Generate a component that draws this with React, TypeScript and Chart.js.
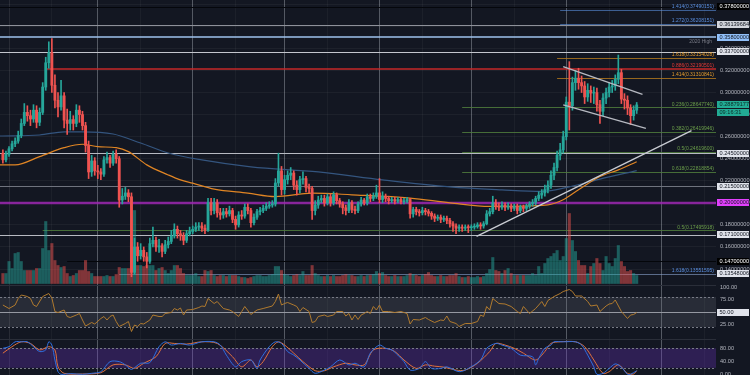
import React, { useEffect, useRef } from 'react';
import Chart from 'chart.js/auto';

// ---------------- DATA ----------------
// day index 0 = 1 Feb 2020, first candle = day -2
const FIRST_DAY = -2;
const FIRST_OPEN = 0.245;

const closes = [
  0.239, 0.244, 0.249, 0.2535, 0.256, 0.261, 0.272, 0.282, 0.279, 0.276,
  0.284, 0.273, 0.282, 0.305, 0.327, 0.336, 0.3066, 0.293, 0.287, 0.297,
  0.275, 0.272, 0.2755, 0.272, 0.284, 0.280, 0.270, 0.252, 0.228, 0.238,
  0.229, 0.228, 0.226, 0.239, 0.241, 0.236, 0.244, 0.240, 0.2025, 0.206,
  0.209, 0.2055, 0.137, 0.160, 0.152, 0.157, 0.151, 0.147, 0.163, 0.166,
  0.160, 0.161, 0.156, 0.162, 0.165, 0.170, 0.176, 0.172, 0.170, 0.166,
  0.172, 0.174, 0.176, 0.178, 0.179, 0.177, 0.175, 0.200, 0.193, 0.200,
  0.191, 0.189, 0.192, 0.190, 0.193, 0.185, 0.180, 0.189, 0.188, 0.196,
  0.193, 0.182, 0.187, 0.192, 0.193, 0.195, 0.197, 0.198, 0.199, 0.218,
  0.229, 0.212, 0.221, 0.225, 0.227, 0.216, 0.212, 0.221, 0.222, 0.214,
  0.213, 0.193, 0.198, 0.2025, 0.204, 0.200, 0.2055, 0.200, 0.2073, 0.202,
  0.199, 0.1955, 0.193, 0.200, 0.194, 0.193, 0.199, 0.2025, 0.200, 0.2055,
  0.204, 0.206, 0.209, 0.203, 0.206, 0.204, 0.202, 0.203, 0.2015, 0.203,
  0.201, 0.2015, 0.203, 0.190, 0.194, 0.192, 0.191, 0.193, 0.192, 0.1905,
  0.188, 0.186, 0.187, 0.185, 0.186, 0.184, 0.181, 0.179, 0.177, 0.178,
  0.177, 0.178, 0.1775, 0.178, 0.1785, 0.180, 0.179, 0.181, 0.190, 0.192,
  0.200, 0.197, 0.196, 0.198, 0.196, 0.197, 0.195, 0.197, 0.193, 0.196,
  0.195, 0.197, 0.199, 0.2005, 0.204, 0.207, 0.209, 0.212, 0.216, 0.225,
  0.232, 0.243, 0.248, 0.260, 0.2913, 0.288, 0.309, 0.313, 0.309, 0.306,
  0.296, 0.302, 0.2995, 0.300, 0.289, 0.283, 0.295, 0.300, 0.305, 0.306,
  0.312, 0.318, 0.294, 0.293, 0.286, 0.279, 0.284, 0.28879177,
];

const highs = [
  0.248, 0.247, 0.251, 0.256, 0.259, 0.265, 0.276, 0.290, 0.288, 0.284,
  0.289, 0.288, 0.286, 0.309, 0.332, 0.346, 0.349, 0.316, 0.300, 0.311,
  0.300, 0.285, 0.283, 0.279, 0.289, 0.288, 0.283, 0.273, 0.256, 0.243,
  0.241, 0.234, 0.231, 0.242, 0.246, 0.243, 0.247, 0.248, 0.242, 0.213,
  0.214, 0.212, 0.209, 0.168, 0.164, 0.163, 0.160, 0.155, 0.168, 0.178,
  0.169, 0.167, 0.163, 0.166, 0.169, 0.175, 0.181, 0.179, 0.175, 0.173,
  0.175, 0.178, 0.179, 0.182, 0.182, 0.182, 0.180, 0.204, 0.204, 0.204,
  0.203, 0.195, 0.195, 0.195, 0.197, 0.195, 0.188, 0.192, 0.193, 0.199,
  0.199, 0.195, 0.190, 0.194, 0.196, 0.198, 0.200, 0.201, 0.202, 0.222,
  0.245, 0.233, 0.225, 0.229, 0.232, 0.229, 0.220, 0.224, 0.228, 0.224,
  0.217, 0.215, 0.202, 0.206, 0.207, 0.207, 0.208, 0.208, 0.210, 0.209,
  0.204, 0.201, 0.198, 0.203, 0.202, 0.197, 0.201, 0.205, 0.204, 0.208,
  0.208, 0.209, 0.216, 0.222, 0.210, 0.208, 0.206, 0.205, 0.205, 0.205,
  0.205, 0.204, 0.205, 0.204, 0.196, 0.196, 0.194, 0.196, 0.195, 0.194,
  0.192, 0.190, 0.189, 0.189, 0.188, 0.188, 0.186, 0.183, 0.181, 0.180,
  0.180, 0.180, 0.180, 0.180, 0.181, 0.182, 0.182, 0.183, 0.193, 0.195,
  0.206, 0.203, 0.200, 0.201, 0.200, 0.200, 0.199, 0.199, 0.199, 0.198,
  0.198, 0.199, 0.201, 0.203, 0.206, 0.210, 0.212, 0.216, 0.220, 0.229,
  0.236, 0.247, 0.254, 0.265, 0.296, 0.328, 0.314, 0.320, 0.322, 0.315,
  0.310, 0.308, 0.306, 0.305, 0.304, 0.293, 0.299, 0.304, 0.309, 0.311,
  0.316, 0.334, 0.321, 0.299, 0.297, 0.289, 0.288, 0.291,
];

const lows = [
  0.236, 0.237, 0.242, 0.247, 0.251, 0.254, 0.259, 0.270, 0.274, 0.270,
  0.273, 0.268, 0.270, 0.280, 0.302, 0.322, 0.300, 0.286, 0.278, 0.284,
  0.268, 0.262, 0.266, 0.266, 0.269, 0.273, 0.266, 0.246, 0.222, 0.224,
  0.225, 0.222, 0.221, 0.224, 0.236, 0.232, 0.234, 0.236, 0.196, 0.199,
  0.203, 0.201, 0.133, 0.135, 0.147, 0.149, 0.147, 0.141, 0.145, 0.160,
  0.156, 0.155, 0.151, 0.154, 0.159, 0.163, 0.168, 0.168, 0.166, 0.162,
  0.164, 0.170, 0.172, 0.174, 0.175, 0.174, 0.172, 0.174, 0.189, 0.190,
  0.187, 0.185, 0.186, 0.187, 0.188, 0.182, 0.176, 0.178, 0.185, 0.186,
  0.190, 0.178, 0.180, 0.185, 0.189, 0.191, 0.193, 0.195, 0.196, 0.197,
  0.215, 0.207, 0.208, 0.217, 0.221, 0.212, 0.207, 0.209, 0.217, 0.210,
  0.209, 0.185, 0.189, 0.195, 0.200, 0.197, 0.198, 0.197, 0.198, 0.199,
  0.196, 0.190, 0.189, 0.191, 0.191, 0.190, 0.191, 0.197, 0.198, 0.198,
  0.201, 0.202, 0.204, 0.200, 0.200, 0.201, 0.199, 0.200, 0.199, 0.200,
  0.199, 0.199, 0.200, 0.186, 0.187, 0.189, 0.188, 0.189, 0.189, 0.188,
  0.185, 0.183, 0.184, 0.182, 0.183, 0.181, 0.178, 0.174, 0.172, 0.174,
  0.174, 0.175, 0.173, 0.175, 0.176, 0.177, 0.176, 0.177, 0.180, 0.188,
  0.190, 0.194, 0.193, 0.194, 0.193, 0.194, 0.192, 0.193, 0.190, 0.191,
  0.192, 0.193, 0.195, 0.197, 0.198, 0.202, 0.204, 0.206, 0.209, 0.213,
  0.221, 0.229, 0.239, 0.245, 0.257, 0.266, 0.284, 0.302, 0.303, 0.300,
  0.290, 0.292, 0.291, 0.290, 0.283, 0.272, 0.279, 0.290, 0.296, 0.300,
  0.302, 0.308, 0.290, 0.285, 0.280, 0.271, 0.275, 0.281,
];

const volumes = [
  10, 10, 22, 15, 30, 31, 22, 13, 13, 13,
  13, 15, 15, 35, 62, 33, 40, 23, 18, 16,
  17, 10, 7, 8, 10, 13, 13, 23, 12, 10,
  7, 7, 7, 7, 8, 7, 7, 9, 16, 15,
  15, 15, 41, 73, 18, 18, 17, 18, 18, 18,
  13, 15, 16, 13, 10, 13, 18, 18, 15, 10,
  8, 8, 8, 10, 7, 7, 13, 12, 13, 8,
  7, 8, 8, 7, 8, 8, 8, 7, 6, 6,
  5, 6, 7, 8, 8, 7, 7, 8, 9, 17,
  17, 13, 9, 8, 7, 8, 9, 8, 12, 8,
  8, 18, 10, 8, 7, 7, 8, 7, 8, 7,
  7, 8, 9, 8, 8, 7, 7, 8, 7, 8,
  8, 9, 12, 10, 11, 8, 7, 7, 8, 7,
  7, 7, 8, 10, 9, 8, 7, 8, 9, 11,
  8, 7, 7, 8, 7, 7, 8, 8, 10, 7,
  6, 6, 7, 6, 6, 7, 6, 7, 10, 14,
  26, 13, 12, 10, 13, 15, 10, 8, 8, 8,
  8, 8, 8, 10, 8, 17, 10, 20, 25, 27,
  30, 33, 23, 27, 45, 70, 43, 32, 23, 18,
  18, 10, 17, 20, 25, 20, 13, 27, 20, 17,
  25, 38, 22, 17, 12, 13, 10, 8,
];

// moving averages: [day, price]
const maSlow = [
  [-3, 0.2606], [10, 0.2615], [18, 0.2644], [24, 0.2644], [34, 0.2624], [43, 0.2542],
  [52, 0.2452], [63, 0.2389], [79, 0.2326], [101, 0.2280], [122, 0.2208], [144, 0.2145],
  [161, 0.2118], [174, 0.2104], [183, 0.2145], [193, 0.2215], [205, 0.2292],
];
const maFast = [
  [-3, 0.2344], [2, 0.2344], [10, 0.2419], [18, 0.2500], [24, 0.2531], [29, 0.2509],
  [35, 0.2500], [39, 0.2464], [45, 0.2344], [52, 0.2253], [56, 0.2208], [60, 0.2178],
  [67, 0.2124], [78, 0.2088], [87, 0.2057], [99, 0.2088], [112, 0.2073], [131, 0.2043],
  [144, 0.2000], [157, 0.1967], [176, 0.1982], [181, 0.2028], [186, 0.2118], [193, 0.2238],
  [199, 0.2299], [205, 0.2373],
];

// RSI [day, value]
const rsi = [
  [-2, 64], [0, 57], [2, 64], [3, 77], [4, 84], [6, 81], [7, 77], [8, 64], [9, 61], [11, 81],
  [13, 87], [14, 78], [15, 51], [16, 49], [18, 54], [19, 41], [20, 39], [22, 44], [23, 47], [24, 34],
  [25, 22], [27, 29], [28, 26], [30, 37], [31, 41], [32, 34], [33, 41], [34, 44], [35, 31], [36, 21],
  [38, 27], [39, 31], [40, 11], [41, 24], [42, 21], [43, 27], [44, 26], [46, 34], [47, 44], [49, 41],
  [50, 41], [51, 47], [53, 49], [54, 57], [55, 54], [56, 58], [57, 44], [58, 54], [60, 55], [62, 59],
  [63, 62], [64, 61], [65, 77], [67, 67], [68, 71], [69, 64], [70, 57], [72, 54], [73, 51], [75, 41],
  [76, 51], [77, 61], [79, 45], [81, 54], [83, 57], [86, 62], [87, 71], [88, 86], [89, 64], [90, 67],
  [91, 69], [93, 64], [94, 61], [95, 51], [96, 59], [98, 51], [99, 29], [100, 31], [101, 41], [103, 44],
  [104, 41], [106, 44], [107, 51], [109, 51], [110, 42], [111, 47], [112, 34], [113, 44], [114, 35], [115, 44],
  [116, 47], [117, 51], [118, 47], [119, 61], [120, 54], [121, 64], [122, 51], [124, 51], [126, 49], [128, 51],
  [130, 47], [131, 26], [132, 35], [134, 34], [136, 39], [137, 35], [139, 29], [141, 34], [142, 33], [143, 42],
  [144, 31], [146, 27], [147, 21], [149, 27], [151, 27], [153, 31], [154, 44], [155, 41], [156, 61], [157, 54],
  [158, 77], [160, 67], [162, 66], [164, 61], [166, 51], [167, 47], [168, 61], [170, 47], [172, 57], [174, 71],
  [175, 61], [176, 73], [178, 81], [180, 87], [181, 91], [183, 95], [184, 91], [185, 82], [187, 82], [189, 71],
  [190, 62], [192, 64], [193, 51], [195, 62], [196, 66], [197, 67], [198, 74], [200, 51], [201, 44], [202, 37],
  [203, 44], [204, 45], [205, 49],
];

// Stochastic %K and %D [day, value]
const stochK = [
  [-2, 80], [0, 85], [2, 100], [4, 100], [6, 100], [8, 85], [10, 70], [12, 75], [13, 100], [14, 90],
  [15, 44], [16, 8], [17, 0], [20, 2], [24, 0], [27, 3], [30, 8], [33, 39], [36, 39], [38, 29],
  [40, 15], [43, 34], [46, 36], [49, 85], [51, 100], [53, 90], [56, 95], [59, 90], [63, 100], [67, 100],
  [69, 90], [71, 59], [74, 23], [76, 39], [79, 44], [81, 18], [82, 44], [85, 85], [87, 100], [89, 95],
  [91, 70], [93, 59], [95, 44], [98, 18], [100, 3], [103, 13], [105, 23], [108, 44], [111, 29], [113, 34],
  [116, 23], [118, 65], [121, 90], [123, 80], [125, 75], [127, 59], [129, 39], [131, 13], [134, 18], [136, 39],
  [138, 18], [141, 18], [143, 23], [147, 8], [150, 18], [154, 44], [156, 80], [159, 95], [161, 90], [164, 80],
  [167, 59], [171, 54], [172, 29], [173, 49], [175, 80], [177, 90], [178, 100], [181, 100], [185, 100], [187, 90],
  [189, 59], [191, 23], [192, 0], [194, 3], [196, 18], [198, 32], [200, 22], [202, 0], [203, 0], [205, 11],
];
const stochD = [
  [-2, 65], [1, 85], [4, 100], [7, 95], [10, 75], [13, 85], [15, 75], [16, 23], [18, 3], [24, 1],
  [30, 5], [34, 29], [38, 29], [41, 18], [44, 34], [48, 54], [51, 95], [54, 95], [58, 93], [63, 100],
  [68, 95], [73, 54], [76, 23], [79, 44], [81, 23], [83, 39], [86, 85], [88, 100], [90, 90], [93, 65],
  [96, 39], [100, 11], [103, 11], [106, 23], [110, 34], [113, 29], [116, 29], [119, 75], [123, 80], [126, 70],
  [129, 44], [133, 18], [136, 29], [139, 25], [142, 22], [146, 13], [149, 13], [153, 34], [157, 70], [159, 95],
  [162, 90], [165, 80], [168, 65], [172, 44], [175, 70], [177, 95], [180, 100], [185, 100], [188, 85], [191, 44],
  [194, 3], [196, 8], [199, 29], [202, 3], [204, 1], [205, 11],
];

// drawn trend lines [day, price]
const trendRising = [[152.7, 0.1696], [222.9, 0.2654]];
const flagUpper = [[181.0, 0.3235], [206.9, 0.2983]];
const flagLower = [[181.0, 0.2888], [208.0, 0.2675]];

const priceTicks = [0.14, 0.16, 0.18, 0.2, 0.22, 0.24, 0.26, 0.28, 0.3, 0.32, 0.34, 0.36, 0.38];
const priceLabelTicks = [0.14, 0.16, 0.18, 0.2, 0.22, 0.24, 0.26, 0.28, 0.3, 0.32, 0.34, 0.36];
const monthStarts = [0, 29, 60, 90, 121, 151, 182, 213];
const midMonths = [14, 43, 74, 104, 135, 165, 196, 227];

const levelPrices = [0.378, 0.36139684, 0.35, 0.337, 0.3217, 0.245, 0.215, 0.2, 0.171, 0.147];
const levelFromDay = [-3, -3, -3, -3, 12, -3, -3, -3, -3, 19];

const fibPrices = [0.37490151, 0.36208151, 0.33154028, 0.32190501, 0.31310841, 0.2864774, 0.26419946, 0.246196, 0.22818854, 0.17495918, 0.13551595];
const fibLabels = ['1.414(0.37490151)', '1.272(0.36208151)', '1.618(0.33154028)', '0.886(0.32190501)', '1.414(0.31310841)', '0.236(0.28647740)', '0.382(0.26419946)', '0.5(0.24619600)', '0.618(0.22818854)', '0.5(0.17495918)', '1.618(0.13551595)'];
const fibFromDay = [180, 180, 179, null, 179, 148, 148, 148, 148, 11, 36];

const axisBoxTexts = ['0.37800000', '0.36139684', '0.35800000', '0.33700000', '0.28879177', '0.24500000', '0.21500000', '0.20000000', '0.17100000', '0.14700000', '0.13548006'];
const axisBoxPrices = [0.378, 0.36139684, 0.35, 0.337, 0.28879177, 0.245, 0.215, 0.2, 0.171, 0.147, 0.1355];
const countdownText = '09:16:31';
const highLabel = '2020 High';
const highLabelPrice = 0.35;

const rsiTicks = [100, 75, 25];
const rsiBoxValue = 50;
const rsiBands = [80, 20];
const rsiMid = 50;
const stochTicks = [80, 40, 0];
const stochBands = [80, 20];

// ---------------- STYLE ----------------
const BG = '#131722';
const UP = '#26a69a';
const DOWN = '#ef5350';
const levelStyles = [
  { c: '#05070c', w: 1 }, { c: '#8e919a', w: 1 }, { c: '#9fc3ee', w: 1.5 }, { c: '#c3c6ce', w: 1 },
  { c: '#c62828', w: 1.5 }, { c: '#b7bac2', w: 1 }, { c: '#6f737e', w: 1 }, { c: 'rgba(156,39,176,0.85)', w: 2.5 },
  { c: '#b7bac2', w: 1 }, { c: '#04060a', w: 1 },
];
const BLUE_T = '#5a8fe0', ORANGE_T = '#e39b2c', RED_T = '#e53935', GREEN_T = '#6b9e4a';
const fibTextColors = [BLUE_T, BLUE_T, ORANGE_T, RED_T, ORANGE_T, GREEN_T, GREEN_T, GREEN_T, GREEN_T, GREEN_T, BLUE_T];
const fibLineColors = ['rgba(90,143,224,0.6)', 'rgba(90,143,224,0.6)', 'rgba(184,124,30,0.8)', null, 'rgba(184,124,30,0.8)',
  'rgba(80,125,60,0.85)', 'rgba(80,125,60,0.85)', 'rgba(80,125,60,0.85)', 'rgba(80,125,60,0.85)', 'rgba(80,125,60,0.85)', 'rgba(140,165,210,0.6)'];
const boxBg = ['#000000', '#d1d4dc', '#90bff9', '#e0e3eb', '#22ab94', '#e0e3eb', '#e0e3eb', '#e040fb', '#e0e3eb', '#000000', '#e0e3eb'];
const boxFg = ['#ffffff', '#131722', '#131722', '#131722', '#0b2a26', '#131722', '#131722', '#131722', '#131722', '#ffffff', '#131722'];

// ---------------- DERIVED ----------------
const days = closes.map((_, i) => FIRST_DAY + i);
const opens = closes.map((_, i) => (i === 0 ? FIRST_OPEN : closes[i - 1]));
const isUp = closes.map((c, i) => c >= opens[i]);
const candleColors = isUp.map((u) => (u ? UP : DOWN));
const volColors = isUp.map((u) => (u ? 'rgba(38,166,154,0.5)' : 'rgba(239,83,80,0.5)'));
const pts = (arr: number[][]) => arr.map(([x, y]) => ({ x, y }));

const overlayPlugin = {
  id: 'overlay',
  beforeDraw(chart: any) {
    const { ctx } = chart;
    ctx.save();
    ctx.fillStyle = BG;
    ctx.fillRect(0, 0, chart.width, chart.height);
    ctx.restore();
  },
  beforeDatasetsDraw(chart: any) {
    const { ctx, chartArea: ca, scales } = chart;
    const xs = scales.x, ys = scales.y, yr = scales.yRsi, yst = scales.yStoch;
    const W = ca.right - ca.left;
    const hline = (py: number, x0: number, color: string, w: number, dash?: number[]) => {
      ctx.beginPath();
      ctx.strokeStyle = color;
      ctx.lineWidth = w;
      ctx.setLineDash(dash || []);
      const yy = w % 2 === 1 ? Math.round(py) + 0.5 : Math.round(py);
      ctx.moveTo(Math.max(ca.left, x0), yy);
      ctx.lineTo(ca.right, yy);
      ctx.stroke();
    };
    ctx.save();
    // panel separators
    hline(yr.getPixelForValue(104), ca.left, '#2a2e39', 1);
    hline(yr.getPixelForValue(-3), ca.left, '#2a2e39', 1);
    // RSI band
    const r1 = yr.getPixelForValue(rsiBands[0]), r2 = yr.getPixelForValue(rsiBands[1]);
    ctx.fillStyle = 'rgba(120,123,134,0.22)';
    ctx.fillRect(ca.left, r1, W, r2 - r1);
    hline(r1, ca.left, '#787b86', 1, [2, 2]);
    hline(r2, ca.left, '#787b86', 1, [2, 2]);
    hline(yr.getPixelForValue(rsiMid), ca.left, '#9598a1', 1);
    // Stoch band
    const s1 = yst.getPixelForValue(stochBands[0]), s2 = yst.getPixelForValue(stochBands[1]);
    ctx.fillStyle = 'rgba(110,50,200,0.3)';
    ctx.fillRect(ca.left, s1, W, s2 - s1);
    hline(s1, ca.left, '#787b86', 1, [2, 2]);
    hline(s2, ca.left, '#787b86', 1, [2, 2]);
    // horizontal levels
    levelPrices.forEach((p, i) => {
      hline(ys.getPixelForValue(p), xs.getPixelForValue(levelFromDay[i]), levelStyles[i].c, levelStyles[i].w);
    });
    fibPrices.forEach((p, i) => {
      const c = fibLineColors[i];
      const f = fibFromDay[i];
      if (c && f !== null) hline(ys.getPixelForValue(p), xs.getPixelForValue(f), c, 1);
    });
    ctx.restore();
  },
  afterDraw(chart: any) {
    const { ctx, chartArea: ca, scales } = chart;
    const ys = scales.y, yr = scales.yRsi, yst = scales.yStoch;
    const fam = '"Liberation Sans", Arial, sans-serif';
    ctx.save();
    // fib labels
    ctx.font = `5px ${fam}`;
    ctx.textAlign = 'right';
    ctx.textBaseline = 'bottom';
    fibPrices.forEach((p, i) => {
      ctx.fillStyle = fibTextColors[i];
      ctx.fillText(fibLabels[i], ca.right - 2, ys.getPixelForValue(p) - 0.5);
    });
    ctx.fillStyle = '#787b86';
    ctx.textBaseline = 'top';
    ctx.fillText(highLabel, ca.right - 4, ys.getPixelForValue(highLabelPrice) + 1.5);
    // axis tick labels
    ctx.font = `5.6px ${fam}`;
    ctx.textAlign = 'left';
    ctx.textBaseline = 'middle';
    ctx.fillStyle = '#b2b5be';
    priceLabelTicks.forEach((v) => ctx.fillText(v.toFixed(8), ca.right + 4, ys.getPixelForValue(v)));
    rsiTicks.forEach((v) => ctx.fillText(v.toFixed(2), ca.right + 4, yr.getPixelForValue(v)));
    stochTicks.forEach((v) => ctx.fillText(v.toFixed(2), ca.right + 4, yst.getPixelForValue(v)));
    // boxes
    const box = (text: string, yc: number, bg: string, fg: string) => {
      ctx.fillStyle = bg;
      ctx.fillRect(ca.right + 1, Math.round(yc - 3.5), 32, 7);
      ctx.fillStyle = fg;
      ctx.fillText(text, ca.right + 3.5, Math.round(yc - 3.5) + 3.7);
    };
    axisBoxTexts.forEach((t, i) => box(t, ys.getPixelForValue(axisBoxPrices[i]), boxBg[i], boxFg[i]));
    box(countdownText, ys.getPixelForValue(axisBoxPrices[4]) + 8, '#22ab94', '#0b2a26');
    box(rsiBoxValue.toFixed(2), yr.getPixelForValue(rsiBoxValue), '#e0e3eb', '#131722');
    ctx.restore();
  },
};

export default function App() {
  const ref = useRef<HTMLCanvasElement>(null);
  useEffect(() => {
    const canvas = ref.current;
    if (!canvas) return;
    const config: any = {
      type: 'bar',
      data: {
        datasets: [
          {
            type: 'bar', label: 'Volume', yAxisID: 'yVol', order: 10, grouped: false,
            data: days.map((d, i) => ({ x: d, y: volumes[i] })),
            backgroundColor: volColors, barThickness: 2.4, borderWidth: 0,
          },
          {
            type: 'line', label: 'MA slow', yAxisID: 'y', order: 7,
            data: pts(maSlow), borderColor: '#34557f', borderWidth: 1.2, pointRadius: 0,
            cubicInterpolationMode: 'monotone',
          },
          {
            type: 'line', label: 'MA fast', yAxisID: 'y', order: 6,
            data: pts(maFast), borderColor: '#e08524', borderWidth: 1.2, pointRadius: 0,
            cubicInterpolationMode: 'monotone',
          },
          {
            type: 'bar', label: 'Wicks', yAxisID: 'y', order: 4, grouped: false,
            data: days.map((d, i) => ({ x: d, y: [lows[i], highs[i]] })),
            backgroundColor: candleColors, barThickness: 1, borderWidth: 0,
          },
          {
            type: 'bar', label: 'Bodies', yAxisID: 'y', order: 3, grouped: false,
            data: days.map((d, i) => ({ x: d, y: [opens[i], closes[i]] })),
            backgroundColor: candleColors, barThickness: 2.2, borderWidth: 0, minBarLength: 1,
          },
          {
            type: 'line', label: 'Trend', yAxisID: 'y', order: 2,
            data: pts(trendRising), borderColor: '#c9ccd3', borderWidth: 1.3, pointRadius: 0,
          },
          {
            type: 'line', label: 'Flag top', yAxisID: 'y', order: 2,
            data: pts(flagUpper), borderColor: '#b7bac2', borderWidth: 1.3, pointRadius: 0,
          },
          {
            type: 'line', label: 'Flag bottom', yAxisID: 'y', order: 2,
            data: pts(flagLower), borderColor: '#b7bac2', borderWidth: 1.3, pointRadius: 0,
          },
          {
            type: 'line', label: 'RSI', yAxisID: 'yRsi', order: 5,
            data: pts(rsi), borderColor: '#b07a2e', borderWidth: 1, pointRadius: 0, tension: 0,
          },
          {
            type: 'line', label: '%D', yAxisID: 'yStoch', order: 5,
            data: pts(stochD), borderColor: '#e0703c', borderWidth: 1, pointRadius: 0, tension: 0.3,
          },
          {
            type: 'line', label: '%K', yAxisID: 'yStoch', order: 4,
            data: pts(stochK), borderColor: '#2f6fe0', borderWidth: 1, pointRadius: 0, tension: 0.3,
          },
        ],
      },
      options: {
        responsive: false,
        maintainAspectRatio: false,
        animation: false,
        events: [],
        devicePixelRatio: 1,
        layout: { padding: { left: 0, right: 34, top: 0, bottom: 0 } },
        plugins: { legend: { display: false }, tooltip: { enabled: false } },
        scales: {
          x: {
            type: 'linear', position: 'bottom', min: -2.94, max: 230.9, offset: false,
            ticks: { display: false },
            grid: {
              offset: false, drawTicks: false, lineWidth: 1,
              color: (c: any) => {
                const v = c.tick ? c.tick.value : 0;
                if (v === 0) return 'rgba(255,255,255,0.09)';
                return monthStarts.includes(v) ? 'rgba(175,180,190,0.42)' : 'rgba(255,255,255,0.04)';
              },
            },
            border: { display: false },
            afterBuildTicks: (s: any) => {
              s.ticks = [...monthStarts, ...midMonths].map((v) => ({ value: v }));
            },
          },
          y: {
            type: 'linear', position: 'right', min: 0.0439, max: 0.3839,
            ticks: { display: false },
            grid: { drawTicks: false, color: 'rgba(255,255,255,0.045)' },
            border: { display: false },
            afterBuildTicks: (s: any) => {
              s.ticks = priceTicks.map((v) => ({ value: v }));
            },
          },
          yVol: { type: 'linear', display: false, min: -91.5, max: 283.5 },
          yRsi: { type: 'linear', display: false, min: -76, max: 674 },
          yStoch: { type: 'linear', display: false, min: -2.15, max: 1151.7 },
        },
      },
      plugins: [overlayPlugin],
    };
    const chart = new Chart(canvas, config);
    return () => chart.destroy();
  }, []);
  return (
    <div style={{ position: 'fixed', left: 0, top: 0, width: 750, height: 375, background: BG, overflow: 'hidden' }}>
      <canvas ref={ref} width={750} height={375} style={{ display: 'block', width: 750, height: 375 }} />
    </div>
  );
}
